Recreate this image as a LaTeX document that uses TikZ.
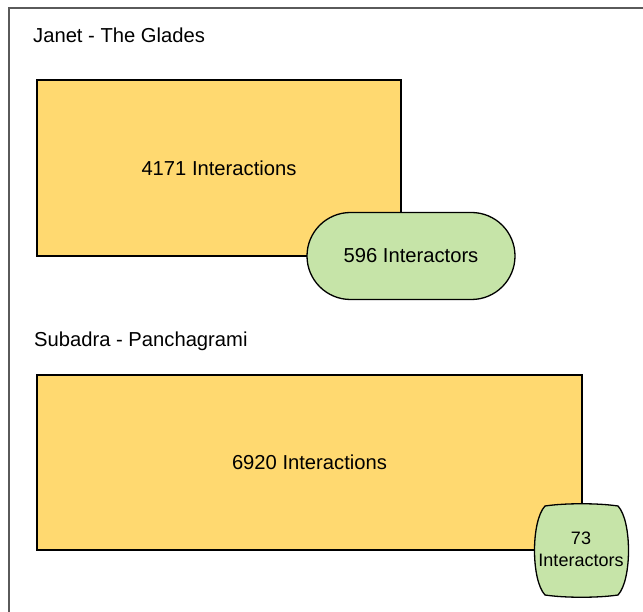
\documentclass[tikz,border=0pt]{standalone}
\usepackage{fontspec}
\setmainfont{Liberation Sans}
\usepackage{tikz}
\usetikzlibrary{shapes.misc}

\definecolor{boxyellow}{HTML}{FFD970}
\definecolor{boxgreen}{HTML}{C6E4A8}
\definecolor{framegray}{HTML}{5A5A5A}

\tikzset{
  interbox/.style={draw=black, fill=boxyellow, line width=1.3pt, inner sep=0pt, font=\fontsize{20.2}{24}\selectfont},
  actorbox/.style={draw=black, fill=boxgreen, line width=1.3pt, inner sep=0pt},
  grouplabel/.style={anchor=base west, inner sep=0pt, font=\fontsize{20.2}{24}\selectfont}
}

\begin{document}
\begin{tikzpicture}[x=1pt,y=-1pt]
    \useasboundingbox (0,0) rectangle (643,612);
    \draw[framegray, line width=2pt] (9,612) -- (9,8) -- (643,8);

    \node[grouplabel] (janet) at (33,43) {Janet - The Glades};
    \node[interbox, minimum width=364pt, minimum height=176pt] (iacta) at (219,168) {4171 Interactions};
    \node[actorbox, rounded rectangle, minimum width=208pt, minimum height=87pt, font=\fontsize{20.2}{24}\selectfont] (actora) at (411,256) {596 Interactors};

    \node[grouplabel] (subadra) at (34,347) {Subadra - Panchagrami};
    \node[interbox, minimum width=545pt, minimum height=175pt] (iactb) at (309.5,462.5) {6920 Interactions};
    \draw[actorbox] (545,506) .. controls (565,503) and (598,503) .. (618,506)
        .. controls (632,521) and (632,580) .. (618,595)
        .. controls (598,598) and (565,598) .. (545,595)
        .. controls (531,580) and (531,521) .. (545,506) -- cycle;
    \node[align=center, inner sep=0pt, font=\fontsize{18}{22}\selectfont] (actorb) at (581,549) {73\\Interactors};
  \end{tikzpicture}
\end{document}
